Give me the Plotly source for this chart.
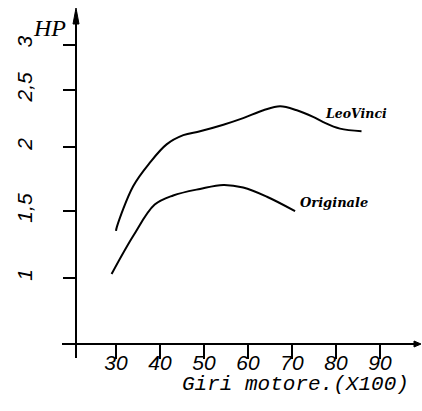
import plotly.graph_objects as go

# Data (HP vs rpm x100)
leovinci_rpm = [30.0, 30.2, 33.9, 37.7, 41.5, 45.3, 49.1, 54.4, 58.9, 63.5, 67.3, 71.1, 74.8, 77.1, 80.9, 85.8]
leovinci_hp = [1.36, 1.39, 1.70, 1.88, 2.02, 2.09, 2.12, 2.17, 2.22, 2.28, 2.31, 2.28, 2.23, 2.19, 2.14, 2.12]
originale_rpm = [29.0, 33.9, 38.8, 43.0, 49.1, 54.4, 58.9, 64.3, 70.7]
originale_hp = [1.03, 1.32, 1.56, 1.63, 1.68, 1.71, 1.69, 1.62, 1.51]

x_tick_vals = [30, 40, 50, 60, 70, 80, 90]
x_tick_text = ["30", "40", "50", "60", "70", "80", "90"]
# tick marks as hand-placed on the original drawing
y_tick_vals = [1.0, 1.51, 2.0, 2.435, 2.78]
y_tick_text = ["1", "1,5", "2", "2,5", "3"]

series_names = ["LeoVinci", "Originale"]

W, H = 422, 411
ML, MR, MT, MB = 76, 4, 8, 67
PW, PH = W - ML - MR, H - MT - MB
X_RANGE = [20.91, 20.91 + PW / 4.4]
Y_RANGE = [0.496, 0.496 + PH / 131.0]

def px(dx):
    return dx / PW

def py(dy):
    return dy / PH

fig = go.Figure()
fig.add_trace(go.Scatter(x=leovinci_rpm, y=leovinci_hp, mode="lines", name=series_names[0],
                         line=dict(color="black", width=2, shape="spline", smoothing=1.0)))
fig.add_trace(go.Scatter(x=originale_rpm, y=originale_hp, mode="lines", name=series_names[1],
                         line=dict(color="black", width=2, shape="spline", smoothing=1.0)))

tick_font = dict(family="Liberation Sans", size=21, color="black", style="italic")

fig.update_xaxes(range=X_RANGE, showgrid=False, zeroline=False, showline=False, automargin=False,
                 tickvals=x_tick_vals, ticktext=x_tick_text, ticks="outside", ticklen=14,
                 tickwidth=2, tickcolor="black", tickfont=tick_font, ticklabelstandoff=-14)
fig.update_yaxes(range=Y_RANGE, showgrid=False, zeroline=False, showline=False, automargin=False,
                 tickvals=y_tick_vals, ticktext=y_tick_text, ticks="outside", ticklen=12,
                 tickwidth=2, tickcolor="black", tickfont=tick_font, tickangle=-90,
                 ticklabelstandoff=23)

shapes = [
    # y axis line
    dict(type="line", xref="paper", yref="paper", x0=0, x1=0, y0=-py(14), y1=1 - py(4),
         line=dict(color="black", width=2)),
    # x axis line
    dict(type="line", xref="paper", yref="paper", x0=-px(14), x1=1, y0=0, y1=0,
         line=dict(color="black", width=2)),
    # y arrow head
    dict(type="path", xref="paper", yref="paper",
         path=f"M {-px(3)} {1 - py(16)} L 0 1 L {px(3)} {1 - py(16)} Z",
         fillcolor="black", line=dict(color="black", width=1)),
    # x arrow head
    dict(type="path", xref="paper", yref="paper",
         path=f"M {1 - px(4)} {py(3)} L {1 + px(3)} 0 L {1 - px(4)} {-py(3)} Z",
         fillcolor="black", line=dict(color="black", width=1)),
]

annotations = [
    dict(text="HP", xref="paper", yref="paper", x=px(49 - ML), y=1 - py(28 - MT),
         xanchor="center", yanchor="middle", showarrow=False,
         font=dict(family="Liberation Serif", size=24, color="black", style="italic")),
    dict(text="Giri motore.(X100)", xref="paper", yref="paper", x=px(411 - ML), y=-py(384 - 344),
         xanchor="right", yanchor="middle", showarrow=False,
         font=dict(family="Liberation Mono", size=21, color="black", style="italic")),
    dict(text=series_names[0], x=77.05, y=2.252, xanchor="left", yanchor="middle", showarrow=False,
         font=dict(family="DejaVu Serif", size=12.5, color="black", style="italic", weight="bold")),
    dict(text=series_names[1], x=71.3, y=1.58, xanchor="left", yanchor="middle", showarrow=False,
         font=dict(family="DejaVu Serif", size=13, color="black", style="italic", weight="bold")),
]

fig.update_layout(width=W, height=H, margin=dict(l=ML, r=MR, t=MT, b=MB, autoexpand=False),
                  paper_bgcolor="white", plot_bgcolor="white", showlegend=False,
                  shapes=shapes, annotations=annotations)

fig.write_html("out.html", config={"displayModeBar": False},
               post_script="document.body.style.margin='0';document.body.style.padding='0';")
